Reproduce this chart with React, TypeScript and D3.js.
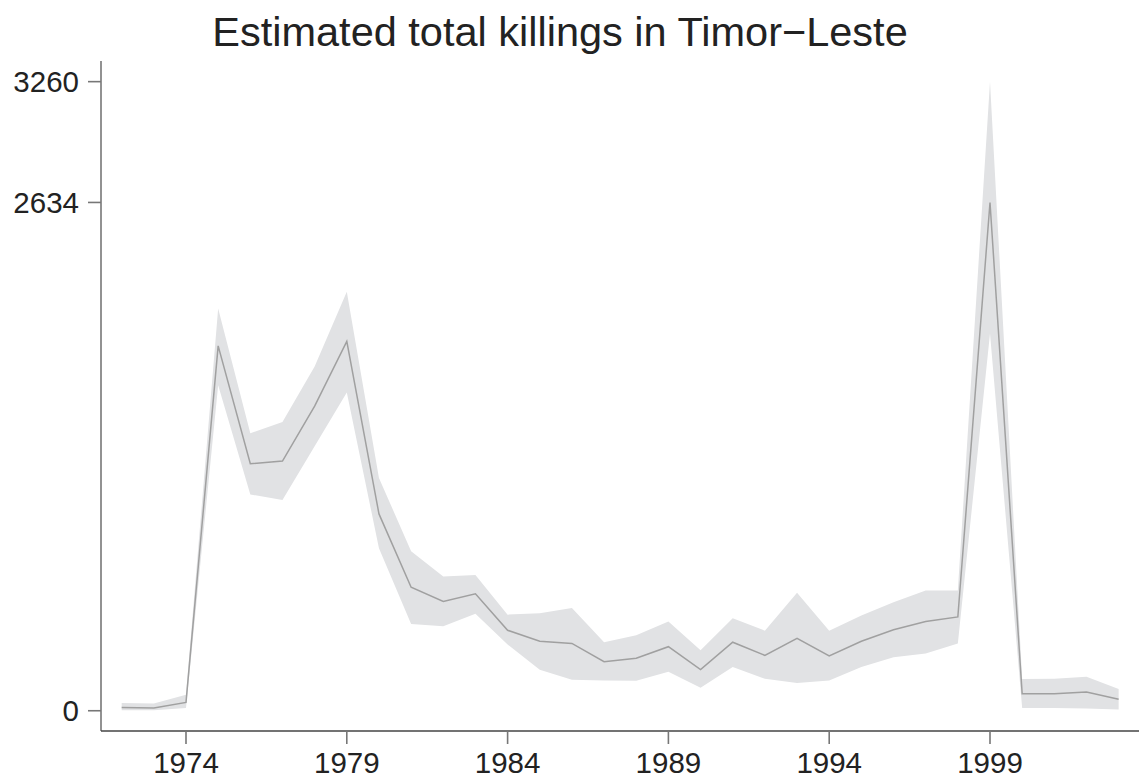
import React from "react";
import * as d3 from "d3";

const years = [1972,1973,1974,1975,1976,1977,1978,1979,1980,1981,1982,1983,1984,1985,1986,1987,1988,1989,1990,1991,1992,1993,1994,1995,1996,1997,1998,1999,2000,2001,2002,2003];
const meanKillings = [17,14,43,1891,1280,1294,1579,1914,1020,640,566,606,417,360,349,254,272,332,213,355,287,375,284,360,420,462,486,2634,88,88,97,59];
const upperKillings = [40,38,83,2085,1438,1496,1784,2171,1206,827,696,704,498,505,533,355,391,462,313,479,415,611,415,493,562,623,623,3260,164,166,176,113];
const lowerKillings = [2,2,14,1687,1121,1092,1370,1649,842,450,438,503,343,213,161,157,156,202,119,227,166,144,157,227,277,296,348,1955,14,14,12,7];
const xTicks = [1974,1979,1984,1989,1994,1999];
const yTicks = [0,2634,3260];
const title = "Estimated total killings in Timor\u2212Leste";

const W = 1144, H = 778;
const left = 101, right = 1139, top = 61, bottom = 731;

export default function App() {
  const x = d3.scaleLinear().domain([1971.357, 2003.633]).range([left, right]);
  const y = d3.scaleLinear().domain([-105, 3367]).range([bottom, top]);
  const idx = years.map((_, i) => i);
  const area = d3.area<number>()
    .x(i => x(years[i]))
    .y0(i => y(lowerKillings[i]))
    .y1(i => y(upperKillings[i]));
  const line = d3.line<number>()
    .x(i => x(years[i]))
    .y(i => y(meanKillings[i]));
  const font = "'Liberation Sans', Arial, Helvetica, sans-serif";
  return (
    <svg width={W} height={H} style={{ position: "absolute", left: 0, top: 0, background: "#fff" }} fontFamily={font}>
      <text x={560} y={46} textAnchor="middle" fontSize={41.5} fill="#222">{title}</text>
      <path d={area(idx) || ""} fill="#e1e2e4" stroke="none" />
      <path d={line(idx) || ""} fill="none" stroke="#a0a0a0" strokeWidth={1.5} />
      <line x1={left} x2={left} y1={top} y2={bottom} stroke="#777" strokeWidth={1.6} />
      <line x1={left} x2={right} y1={bottom} y2={bottom} stroke="#444" strokeWidth={1.6} />
      {yTicks.map(t => (
        <g key={t}>
          <line x1={left - 13} x2={left} y1={y(t)} y2={y(t)} stroke="#777" strokeWidth={1.6} />
          <text x={left - 22} y={y(t)} dy="0.36em" textAnchor="end" fontSize={29.5} fill="#222">{t}</text>
        </g>
      ))}
      {xTicks.map(t => (
        <g key={t}>
          <line x1={x(t)} x2={x(t)} y1={bottom} y2={bottom + 13} stroke="#777" strokeWidth={1.6} />
          <text x={x(t)} y={773} textAnchor="middle" fontSize={29.5} fill="#222">{t}</text>
        </g>
      ))}
    </svg>
  );
}
